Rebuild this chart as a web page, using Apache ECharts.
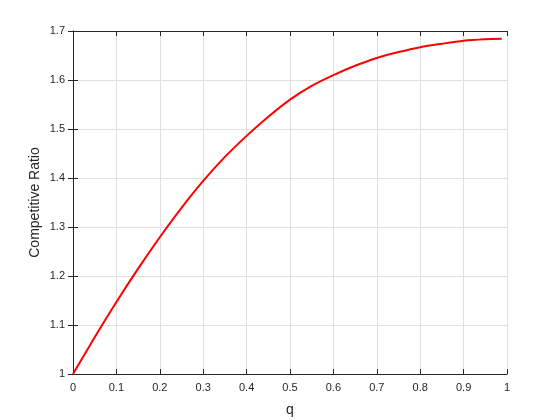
<!DOCTYPE html>
<html>
<head>
<meta charset="utf-8">
<script src="https://cdn.jsdelivr.net/npm/echarts@6/dist/echarts.min.js"></script>
<style>
  html, body { margin: 0; padding: 0; background: #fff; }
  #chart { width: 560px; height: 420px; }
</style>
</head>
<body>
<div id="chart"></div>
<script>
// q values and competitive ratio
const qValues = [0, 0.05, 0.1, 0.15, 0.2, 0.25, 0.3, 0.35, 0.4, 0.45, 0.5,
  0.55, 0.6, 0.65, 0.7, 0.75, 0.8, 0.85, 0.9, 0.95, 0.988];
const ratioValues = [1.0, 1.075, 1.147, 1.215, 1.279, 1.339, 1.394, 1.443, 1.486, 1.525, 1.560,
  1.588, 1.610, 1.629, 1.645, 1.657, 1.667, 1.674, 1.680, 1.683, 1.684];

const textColor = "#262626";
const font = "Liberation Sans, Arial, sans-serif";

const boxAxis = {
  axisLine: { show: true, lineStyle: { color: textColor, width: 1 } },
  axisTick: { show: true, inside: true, length: 5, lineStyle: { color: textColor } },
  axisLabel: { show: false },
  splitLine: { show: false },
};

const chart = echarts.init(document.getElementById("chart"), null, { renderer: "canvas" });
chart.setOption({
  animation: false,
  grid: { left: 73, right: 53, top: 31, bottom: 46, containLabel: false, outerBoundsMode: "none" },
  xAxis: [
    {
      type: "value",
      min: 0,
      max: 1,
      interval: 0.1,
      name: "q",
      nameLocation: "middle",
      nameGap: 29,
      nameMoveOverlap: false,
      nameTextStyle: { color: textColor, fontSize: 14, fontFamily: font },
      axisLine: { show: true, onZero: false, lineStyle: { color: textColor } },
      axisTick: { show: true, inside: true, length: 5, lineStyle: { color: textColor } },
      axisLabel: { color: textColor, fontSize: 11, fontFamily: font, margin: 8 },
      splitLine: { show: true, lineStyle: { color: "#dfdfdf", width: 1 } },
    },
    Object.assign({ type: "value", min: 0, max: 1, interval: 0.1, position: "top" }, boxAxis),
  ],
  yAxis: [
    {
      type: "value",
      min: 1,
      max: 1.7,
      interval: 0.1,
      name: "Competitive Ratio",
      nameLocation: "middle",
      nameGap: 31,
      nameMoveOverlap: false,
      nameTextStyle: { color: textColor, fontSize: 14, fontFamily: font },
      axisLine: { show: true, onZero: false, lineStyle: { color: textColor } },
      axisTick: { show: true, inside: true, length: 5, lineStyle: { color: textColor } },
      axisLabel: { color: textColor, fontSize: 11, fontFamily: font, margin: 8 },
      splitLine: { show: true, lineStyle: { color: "#dfdfdf", width: 1 } },
    },
    Object.assign({ type: "value", min: 1, max: 1.7, interval: 0.1, position: "right" }, boxAxis),
  ],
  series: [
    {
      type: "line",
      data: qValues.map((q, i) => [q, ratioValues[i]]),
      smooth: 0.3,
      showSymbol: false,
      lineStyle: { color: "#ff0000", width: 2 },
    },
  ],
});
</script>
</body>
</html>
